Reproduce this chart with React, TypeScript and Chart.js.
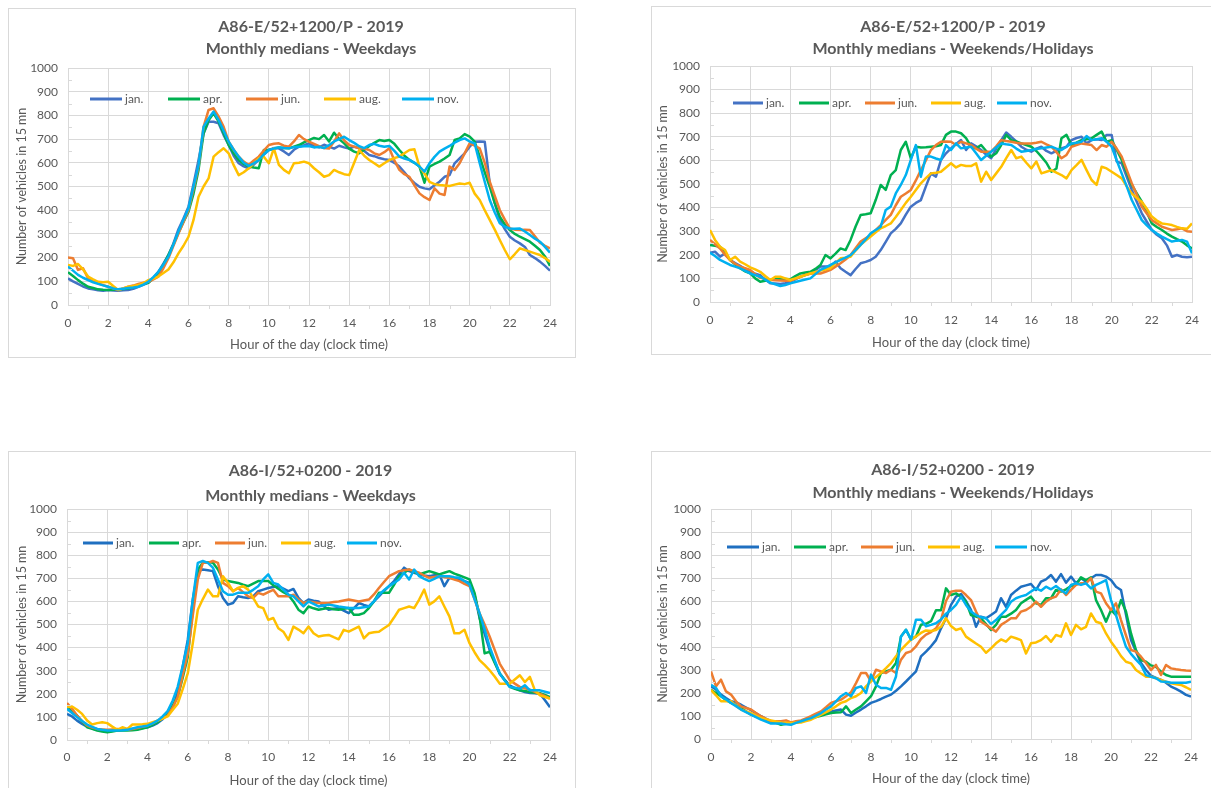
import React, { useEffect, useRef } from 'react';
import { Chart, registerables } from 'chart.js';

Chart.register(...registerables);

const FONT = 'Lato, "Open Sans", sans-serif';
Chart.defaults.font.family = FONT;

// ---------- categories / labels ----------
const MONTHS = ['jan.', 'apr.', 'jun.', 'aug.', 'nov.'];
const HOURS = Array.from({ length: 97 }, (_, i) => i / 4); // 0:00 .. 24:00, 15-min steps
const Y_TITLE = 'Number of vehicles in 15 mn';
const X_TITLE = 'Hour of the day (clock time)';
const TITLE_E_WD = ['A86-E/52+1200/P - 2019', 'Monthly medians - Weekdays'];
const TITLE_E_WE = ['A86-E/52+1200/P - 2019', 'Monthly medians - Weekends/Holidays'];
const TITLE_I_WD = ['A86-I/52+0200 - 2019', 'Monthly medians - Weekdays'];
const TITLE_I_WE = ['A86-I/52+0200 - 2019', 'Monthly medians - Weekends/Holidays'];

// ---------- A86-E weekdays ----------
const E_WD_JAN = [
  112, 100, 89, 78, 70, 66, 62, 60,
  63, 61, 60, 62, 63, 68, 77, 85,
  94, 115, 140, 175, 211, 260, 320, 365,
  415, 510, 612, 724, 773, 773, 767, 717,
  675, 630, 598, 585, 577, 592, 612, 635,
  654, 662, 661, 648, 633, 655, 668, 674,
  682, 670, 665, 676, 668, 660, 672, 665,
  660, 668, 661, 650, 633, 628, 620, 615,
  612, 600, 584, 560, 534, 515, 499, 492,
  488, 505, 520, 541, 548, 598, 619, 640,
  668, 689, 690, 689, 513, 430, 359, 320,
  288, 272, 260, 245, 211, 198, 183, 165,
  145,
];
const E_WD_APR = [
  138, 122, 105, 90, 77, 72, 66, 64,
  63, 64, 66, 68, 70, 75, 82, 88,
  94, 112, 135, 170, 211, 255, 305, 350,
  394, 470, 570, 724, 780, 809, 774, 725,
  675, 640, 612, 595, 584, 580, 577, 654,
  654, 660, 665, 662, 661, 668, 675, 686,
  696, 705, 700, 717, 690, 727, 700, 682,
  660, 647, 640, 655, 671, 684, 696, 692,
  696, 680, 654, 630, 612, 600, 584, 516,
  584, 595, 605, 618, 633, 696, 703, 721,
  710, 689, 626, 560, 499, 430, 373, 340,
  316, 300, 288, 278, 267, 250, 232, 205,
  165,
];
const E_WD_JUN = [
  200, 197, 148, 155, 112, 100, 91, 84,
  77, 70, 63, 70, 77, 82, 89, 94,
  98, 108, 120, 155, 197, 250, 302, 350,
  401, 490, 584, 752, 823, 830, 795, 752,
  689, 655, 626, 605, 591, 610, 626, 652,
  675, 680, 682, 672, 668, 690, 717, 700,
  689, 680, 670, 662, 660, 690, 724, 695,
  675, 668, 662, 660, 654, 640, 633, 645,
  661, 610, 570, 552, 541, 505, 471, 455,
  443, 492, 470, 464, 584, 570, 598, 640,
  682, 672, 661, 600, 520, 460, 401, 360,
  323, 318, 316, 318, 316, 290, 263, 250,
  239,
];
const E_WD_AUG = [
  169, 165, 173, 150, 120, 108, 98, 96,
  98, 80, 63, 70, 77, 80, 84, 92,
  105, 112, 120, 135, 150, 180, 218, 250,
  288, 359, 457, 500, 534, 626, 645, 661,
  640, 590, 548, 560, 577, 598, 619, 626,
  598, 661, 591, 570, 556, 598, 600, 605,
  598, 577, 560, 541, 548, 570, 560, 552,
  548, 600, 654, 630, 612, 598, 584, 598,
  612, 620, 626, 640, 654, 657, 584, 555,
  520, 510, 506, 504, 502, 508, 513, 510,
  516, 470, 443, 400, 359, 318, 274, 232,
  193, 215, 239, 232, 225, 218, 211, 198,
  183,
];
const E_WD_NOV = [
  162, 145, 127, 115, 105, 96, 89, 83,
  77, 70, 66, 69, 72, 74, 77, 86,
  98, 118, 140, 170, 204, 255, 310, 360,
  408, 500, 591, 752, 787, 816, 780, 735,
  689, 655, 626, 600, 587, 598, 612, 635,
  654, 660, 665, 662, 661, 666, 668, 670,
  671, 665, 668, 662, 675, 690, 700, 710,
  696, 684, 670, 662, 675, 680, 672, 668,
  671, 650, 626, 618, 612, 600, 584, 563,
  598, 625, 647, 660, 671, 685, 696, 703,
  690, 682, 598, 520, 443, 390, 345, 330,
  323, 322, 323, 310, 295, 280, 267, 245,
  221,
];

// ---------- A86-E weekends / holidays ----------
const E_WE_JAN = [
  209, 213, 192, 206, 178, 165, 153, 140,
  128, 120, 114, 95, 79, 78, 76, 80,
  86, 96, 107, 114, 121, 135, 150, 150,
  150, 171, 143, 128, 114, 140, 164, 170,
  178, 192, 220, 255, 291, 310, 333, 370,
  404, 420, 432, 490, 545, 531, 602, 630,
  651, 670, 686, 644, 672, 660, 644, 625,
  609, 650, 686, 718, 700, 680, 658, 645,
  637, 650, 658, 640, 630, 640, 651, 658,
  686, 695, 700, 672, 686, 690, 686, 708,
  708, 595, 588, 530, 475, 425, 376, 340,
  305, 285, 270, 240, 192, 199, 192, 190,
  192,
];
const E_WE_APR = [
  242, 238, 234, 205, 178, 160, 143, 130,
  121, 100, 86, 90, 93, 96, 100, 98,
  96, 110, 121, 125, 128, 140, 157, 199,
  185, 205, 227, 220, 263, 320, 369, 372,
  376, 432, 496, 475, 538, 559, 644, 679,
  609, 658, 655, 656, 658, 660, 665, 708,
  722, 722, 715, 694, 658, 651, 665, 640,
  616, 630, 665, 708, 686, 680, 672, 665,
  658, 640, 616, 590, 552, 566, 694, 708,
  665, 675, 686, 690, 694, 708, 722, 679,
  686, 645, 602, 550, 496, 460, 425, 380,
  333, 318, 305, 290, 277, 266, 256, 240,
  227,
];
const E_WE_JUN = [
  263, 245, 227, 200, 178, 162, 150, 143,
  136, 118, 103, 98, 93, 92, 91, 90,
  90, 98, 107, 115, 121, 121, 121, 128,
  136, 150, 164, 180, 199, 228, 256, 270,
  284, 305, 326, 348, 369, 410, 446, 460,
  475, 515, 559, 600, 644, 665, 679, 680,
  679, 665, 679, 672, 665, 650, 637, 637,
  637, 660, 686, 682, 679, 675, 672, 672,
  672, 675, 679, 668, 658, 635, 609, 623,
  658, 665, 672, 668, 665, 644, 665, 658,
  679, 650, 616, 560, 503, 455, 404, 375,
  347, 333, 319, 312, 305, 308, 312, 300,
  298,
];
const E_WE_AUG = [
  305, 263, 234, 220, 178, 192, 171, 160,
  147, 138, 128, 110, 93, 107, 107, 100,
  93, 100, 107, 114, 121, 127, 133, 138,
  143, 165, 185, 188, 192, 218, 242, 260,
  277, 295, 312, 322, 333, 360, 390, 420,
  446, 475, 503, 525, 545, 548, 552, 570,
  588, 570, 581, 576, 576, 588, 510, 552,
  517, 545, 573, 610, 644, 609, 616, 590,
  566, 595, 545, 552, 559, 548, 538, 524,
  559, 580, 602, 559, 517, 496, 573, 566,
  552, 538, 524, 490, 460, 440, 425, 395,
  362, 345, 333, 330, 326, 318, 312, 310,
  333,
];
const E_WE_NOV = [
  209, 195, 178, 168, 157, 150, 143, 132,
  121, 114, 107, 95, 82, 75, 68, 72,
  79, 85, 90, 95, 100, 118, 136, 146,
  157, 168, 178, 188, 199, 220, 242, 265,
  291, 305, 319, 390, 404, 460, 496, 538,
  602, 665, 531, 616, 616, 608, 602, 665,
  644, 672, 651, 655, 658, 630, 602, 620,
  637, 655, 672, 668, 665, 650, 637, 640,
  644, 648, 651, 655, 658, 650, 644, 658,
  672, 675, 679, 703, 686, 690, 694, 679,
  658, 600, 545, 490, 432, 390, 347, 325,
  305, 290, 277, 266, 256, 260, 263, 256,
  206,
];

// ---------- A86-I weekdays ----------
const I_WD_JAN = [
  113, 102, 84, 70, 58, 50, 44, 40,
  38, 40, 41, 43, 44, 46, 48, 52,
  55, 62, 73, 90, 113, 135, 208, 317,
  433, 608, 731, 738, 735, 731, 666, 615,
  586, 593, 622, 618, 615, 622, 644, 651,
  658, 662, 666, 655, 644, 654, 615, 593,
  608, 603, 600, 580, 564, 568, 571, 560,
  549, 570, 593, 585, 578, 600, 622, 645,
  666, 688, 717, 746, 731, 724, 717, 712,
  709, 713, 717, 666, 702, 698, 695, 688,
  680, 629, 528, 460, 390, 340, 288, 260,
  237, 225, 215, 208, 203, 202, 200, 172,
  142,
];
const I_WD_APR = [
  142, 124, 106, 80, 55, 48, 41, 37,
  33, 37, 41, 41, 41, 42, 44, 50,
  55, 65, 77, 95, 113, 150, 186, 270,
  360, 564, 738, 767, 770, 767, 738, 695,
  688, 684, 680, 672, 666, 677, 688, 688,
  688, 670, 655, 640, 628, 600, 564, 549,
  578, 570, 564, 568, 571, 566, 564, 568,
  571, 542, 542, 549, 571, 600, 637, 637,
  637, 672, 709, 724, 738, 728, 717, 724,
  731, 724, 717, 724, 731, 720, 712, 704,
  695, 637, 535, 375, 382, 335, 288, 260,
  230, 222, 215, 212, 208, 205, 203, 195,
  186,
];
const I_WD_JUN = [
  160, 135, 106, 82, 62, 54, 48, 46,
  44, 46, 48, 46, 44, 48, 52, 57,
  62, 72, 84, 95, 106, 140, 186, 280,
  375, 540, 695, 767, 767, 775, 767, 680,
  666, 644, 658, 640, 622, 615, 637, 629,
  640, 650, 622, 622, 622, 629, 608, 593,
  600, 596, 593, 593, 593, 597, 600, 604,
  608, 604, 600, 604, 608, 630, 658, 684,
  709, 720, 731, 735, 738, 731, 724, 712,
  702, 706, 709, 705, 702, 695, 688, 676,
  666, 610, 549, 500, 448, 390, 331, 295,
  259, 244, 230, 224, 218, 208, 200, 190,
  179,
];
const I_WD_AUG = [
  142, 145, 131, 113, 84, 67, 73, 77,
  73, 58, 44, 55, 48, 67, 67, 68,
  70, 77, 84, 93, 102, 130, 157, 220,
  288, 419, 564, 610, 651, 622, 622, 709,
  680, 644, 658, 666, 651, 615, 578, 571,
  520, 528, 484, 469, 433, 491, 478, 462,
  491, 462, 448, 452, 455, 445, 436, 477,
  469, 480, 491, 440, 462, 466, 469, 484,
  498, 530, 564, 571, 578, 571, 608, 651,
  586, 600, 622, 578, 535, 462, 462, 477,
  419, 380, 346, 325, 302, 275, 244, 244,
  244, 262, 280, 251, 273, 215, 193, 186,
  179,
];
const I_WD_NOV = [
  135, 117, 99, 82, 67, 57, 48, 44,
  41, 41, 41, 42, 44, 50, 55, 58,
  62, 72, 84, 102, 125, 170, 230, 320,
  419, 608, 767, 775, 767, 746, 695, 644,
  629, 629, 637, 637, 637, 650, 666, 695,
  717, 680, 673, 651, 629, 622, 600, 578,
  600, 589, 578, 582, 586, 582, 578, 575,
  571, 571, 571, 575, 578, 600, 629, 648,
  666, 680, 695, 724, 695, 738, 709, 698,
  688, 698, 709, 709, 709, 705, 702, 688,
  673, 610, 549, 480, 404, 345, 288, 258,
  230, 226, 222, 237, 215, 215, 215, 209,
  203,
];

// ---------- A86-I weekends / holidays ----------
const I_WE_JAN = [
  229, 215, 193, 178, 164, 159, 149, 137,
  125, 112, 99, 88, 77, 73, 70, 70,
  70, 74, 77, 84, 91, 98, 106, 113,
  120, 124, 128, 106, 101, 115, 128, 142,
  157, 165, 174, 184, 193, 210, 229, 250,
  272, 294, 359, 380, 403, 430, 481, 525,
  583, 619, 630, 600, 561, 488, 532, 525,
  539, 554, 612, 575, 626, 645, 662, 668,
  674, 648, 684, 694, 713, 684, 717, 680,
  706, 677, 699, 684, 699, 713, 713, 706,
  691, 662, 648, 540, 430, 380, 330, 300,
  275, 266, 257, 245, 228, 218, 206, 192,
  184,
];
const I_WE_APR = [
  214, 200, 186, 170, 157, 146, 135, 120,
  106, 98, 91, 84, 77, 70, 62, 66,
  70, 74, 77, 84, 91, 96, 101, 107,
  113, 115, 116, 142, 113, 128, 142, 164,
  186, 229, 287, 294, 301, 330, 446, 475,
  432, 446, 497, 501, 512, 560, 560, 655,
  626, 633, 619, 597, 539, 532, 525, 500,
  474, 496, 532, 532, 545, 561, 590, 605,
  619, 590, 583, 612, 612, 648, 641, 651,
  665, 670, 703, 691, 703, 604, 561, 510,
  561, 539, 604, 554, 459, 387, 343, 336,
  320, 314, 293, 278, 271, 271, 271, 271,
  271,
];
const I_WE_JUN = [
  294, 229, 258, 207, 193, 164, 142, 135,
  128, 113, 99, 88, 77, 77, 77, 81,
  72, 77, 81, 90, 99, 110, 120, 138,
  157, 164, 171, 186, 203, 243, 287, 287,
  251, 301, 294, 287, 301, 287, 345, 374,
  381, 403, 435, 454, 465, 481, 517, 600,
  640, 645, 645, 626, 604, 554, 510, 496,
  481, 467, 496, 510, 525, 525, 554, 561,
  575, 597, 575, 597, 612, 619, 651, 626,
  648, 670, 677, 677, 699, 641, 633, 590,
  561, 590, 517, 450, 387, 380, 358, 330,
  300, 322, 278, 322, 307, 303, 300, 298,
  297,
];
const I_WE_AUG = [
  214, 190, 164, 164, 164, 145, 128, 120,
  113, 102, 91, 86, 81, 76, 72, 71,
  70, 71, 72, 78, 84, 95, 106, 117,
  128, 142, 157, 164, 178, 186, 200, 229,
  251, 270, 287, 308, 330, 360, 388, 410,
  432, 446, 461, 472, 470, 474, 488, 525,
  491, 474, 481, 445, 430, 415, 401, 375,
  394, 416, 433, 423, 445, 438, 430, 372,
  416, 420, 430, 448, 423, 452, 445, 503,
  452, 496, 477, 488, 546, 510, 503, 459,
  423, 394, 360, 336, 329, 300, 285, 271,
  271, 264, 257, 249, 242, 238, 235, 225,
  213,
];
const I_WE_NOV = [
  236, 222, 186, 172, 157, 143, 128, 117,
  106, 95, 84, 76, 67, 67, 67, 64,
  62, 70, 77, 84, 91, 102, 113, 128,
  142, 164, 186, 200, 186, 222, 229, 200,
  280, 236, 222, 222, 214, 272, 446, 475,
  432, 519, 519, 490, 496, 503, 520, 545,
  561, 583, 619, 583, 554, 539, 529, 525,
  500, 517, 540, 561, 597, 612, 620, 626,
  641, 655, 645, 662, 651, 665, 648, 633,
  670, 677, 670, 677, 655, 670, 680, 691,
  604, 539, 467, 401, 370, 345, 322, 278,
  270, 264, 250, 249, 245, 245, 245, 245,
  249,
];

// ---------- styling / layout (not data) ----------
const COLORS_E = ['#4472C4', '#00B050', '#ED7D31', '#FFC000', '#00B0F0'];
const COLORS_I = ['#1F6FC0', '#00B050', '#ED7D31', '#FFC000', '#00B0F0'];
const GRID = '#d9d9d9';
const TEXT = '#595959';

type PanelCfg = {
  key: string;
  title: string[];
  series: number[][];
  colors: string[];
  box: { left: number; top: number; width: number; height: number };
  plot: { left: number; top: number; right: number; bottom: number };
  titleY: number[];
  yTitleX: number;
  xTitleY: number;
  xTickPad: number;
  legend: { dx: number; dy: number; step: number; len: number };
};

const PANELS: PanelCfg[] = [
  {
    key: 'ewd', title: TITLE_E_WD, colors: COLORS_E,
    series: [E_WD_JAN, E_WD_APR, E_WD_JUN, E_WD_AUG, E_WD_NOV],
    box: { left: 8, top: 8, width: 568, height: 350 },
    plot: { left: 59, top: 59, right: 541, bottom: 296 },
    titleY: [18, 40], yTitleX: 13, xTitleY: 336, xTickPad: 11,
    legend: { dx: 22, dy: 31, step: 78, len: 32 },
  },
  {
    key: 'ewe', title: TITLE_E_WE, colors: COLORS_E,
    series: [E_WE_JAN, E_WE_APR, E_WE_JUN, E_WE_AUG, E_WE_NOV],
    box: { left: 651, top: 6, width: 581, height: 349 },
    plot: { left: 58, top: 59, right: 540, bottom: 295 },
    titleY: [20, 42], yTitleX: 11, xTitleY: 336, xTickPad: 11,
    legend: { dx: 23, dy: 37, step: 66, len: 30 },
  },
  {
    key: 'iwd', title: TITLE_I_WD, colors: COLORS_I,
    series: [I_WD_JAN, I_WD_APR, I_WD_JUN, I_WD_AUG, I_WD_NOV],
    box: { left: 8, top: 451, width: 568, height: 360 },
    plot: { left: 58, top: 57, right: 541, bottom: 288 },
    titleY: [19, 44], yTitleX: 13, xTitleY: 329, xTickPad: 10,
    legend: { dx: 16, dy: 34, step: 66, len: 30 },
  },
  {
    key: 'iwe', title: TITLE_I_WE, colors: COLORS_I,
    series: [I_WE_JAN, I_WE_APR, I_WE_JUN, I_WE_AUG, I_WE_NOV],
    box: { left: 651, top: 451, width: 581, height: 360 },
    plot: { left: 59, top: 57, right: 539, bottom: 287 },
    titleY: [18, 41], yTitleX: 11, xTitleY: 327, xTickPad: 11,
    legend: { dx: 16, dy: 38, step: 67, len: 32 },
  },
];

const decorPlugin = {
  id: 'decor',
  afterDraw(chart: any, _args: any, opts: any) {
    const { ctx, chartArea: a, scales } = chart;
    ctx.save();
    // minor tick marks
    ctx.strokeStyle = GRID;
    ctx.lineWidth = 1;
    ctx.beginPath();
    for (let v = 50; v < 1000; v += 100) {
      const y = Math.round(scales.y.getPixelForValue(v)) + 0.5;
      ctx.moveTo(a.left, y);
      ctx.lineTo(a.left + 4, y);
    }
    for (let h = 1; h < 24; h += 2) {
      const x = Math.round(scales.x.getPixelForValue(h)) + 0.5;
      ctx.moveTo(x, a.bottom);
      ctx.lineTo(x, a.bottom + 4);
    }
    ctx.stroke();
    // title
    ctx.fillStyle = TEXT;
    ctx.textAlign = 'center';
    ctx.textBaseline = 'middle';
    ctx.font = `bold 16px ${FONT}`;
    const cx = (a.left + a.right) / 2 + 2;
    opts.title.forEach((t: string, i: number) => ctx.fillText(t, cx, opts.titleY[i]));
    // legend (inside plot area)
    const lg = opts.legend;
    ctx.font = `12px ${FONT}`;
    ctx.textAlign = 'left';
    chart.data.datasets.forEach((ds: any, i: number) => {
      const x0 = a.left + lg.dx + i * lg.step;
      const y = a.top + lg.dy;
      ctx.strokeStyle = ds.borderColor;
      ctx.lineWidth = 3;
      ctx.beginPath();
      ctx.moveTo(x0, y);
      ctx.lineTo(x0 + lg.len, y);
      ctx.stroke();
      ctx.fillStyle = TEXT;
      ctx.fillText(ds.label, x0 + lg.len + 3, y + 0.5);
    });
    ctx.restore();
  },
};

function Panel({ cfg }: { cfg: PanelCfg }) {
  const ref = useRef<HTMLCanvasElement>(null);
  const W = cfg.box.width - 2;
  const H = cfg.box.height - 2;

  useEffect(() => {
    const p = cfg.plot;
    const xTitleLH = 13 * 1.2;
    const xAxisH = cfg.xTitleY - p.bottom + xTitleLH / 2;
    const yTitleLH = 12.5 * 1.2;
    const chart = new Chart(ref.current!, {
      type: 'line',
      data: {
        datasets: cfg.series.map((vals, i) => ({
          label: MONTHS[i],
          data: vals.map((v, j) => ({ x: HOURS[j], y: v })),
          borderColor: cfg.colors[i],
          backgroundColor: cfg.colors[i],
          borderWidth: 2.5,
          pointRadius: 0,
          tension: 0,
          fill: false,
          order: cfg.series.length - 1 - i,
          borderJoinStyle: 'round',
        })),
      },
      options: {
        responsive: false,
        animation: false,
        events: [],
        layout: {
          padding: {
            left: 0,
            top: p.top,
            right: W - p.right,
            bottom: H - p.bottom - xAxisH,
          },
        },
        plugins: {
          legend: { display: false },
          title: { display: false },
          tooltip: { enabled: false },
          decor: {
            title: cfg.title,
            titleY: cfg.titleY,
            legend: cfg.legend,
          },
        } as any,
        scales: {
          x: {
            type: 'linear',
            min: 0,
            max: 24,
            afterFit: (s: any) => { s.height = xAxisH; },
            ticks: {
              stepSize: 2,
              autoSkip: false,
              maxRotation: 0,
              color: TEXT,
              font: { size: 12, family: FONT },
              padding: cfg.xTickPad,
              callback: (v: any) => String(v),
            },
            grid: { color: GRID, lineWidth: 1, drawTicks: false },
            border: { color: GRID, width: 1 },
            title: {
              display: true,
              text: X_TITLE,
              color: TEXT,
              font: { size: 13, family: FONT },
              padding: { top: 0, bottom: 0 },
            },
          },
          y: {
            type: 'linear',
            min: 0,
            max: 1000,
            afterFit: (s: any) => { s.width = p.left; },
            ticks: {
              stepSize: 100,
              color: TEXT,
              font: { size: 12, family: FONT },
              padding: 10,
              callback: (v: any) => String(v),
            },
            grid: { color: GRID, lineWidth: 1, drawTicks: false },
            border: { color: GRID, width: 1 },
            title: {
              display: true,
              text: Y_TITLE,
              color: TEXT,
              font: { size: 12.5, family: FONT },
              padding: { top: cfg.yTitleX - yTitleLH / 2, bottom: 0 },
            },
          },
        },
      } as any,
      plugins: [decorPlugin],
    });
    return () => chart.destroy();
  }, [cfg, W, H]);

  return (
    <div
      style={{
        position: 'absolute',
        left: cfg.box.left,
        top: cfg.box.top,
        width: cfg.box.width,
        height: cfg.box.height,
        border: `1px solid ${GRID}`,
        boxSizing: 'border-box',
        background: '#fff',
      }}
    >
      <canvas ref={ref} width={W} height={H} style={{ display: 'block', width: W, height: H }} />
    </div>
  );
}

export default function App() {
  return (
    <div
      style={{
        position: 'absolute',
        left: 0,
        top: 0,
        width: 1211,
        height: 788,
        overflow: 'hidden',
        background: '#fff',
      }}
    >
      {PANELS.map((p) => (
        <Panel key={p.key} cfg={p} />
      ))}
    </div>
  );
}
